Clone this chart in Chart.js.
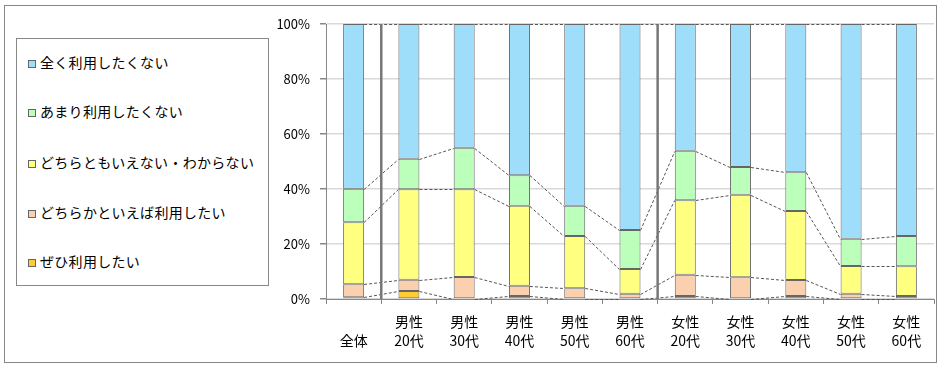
<!DOCTYPE html>
<html>
<head>
<meta charset="utf-8">
<script src="https://cdn.jsdelivr.net/npm/chart.js@4/dist/chart.umd.min.js"></script>
<style>
  body { margin: 0; background: #fff; font-family: "Noto Sans CJK JP", sans-serif; }
  #wrap { position: relative; width: 942px; height: 367px; }
  #frame { position: absolute; left: 4px; top: 5px; width: 933px; height: 358px; border: 1px solid #888; box-sizing: border-box; }
  #legend { position: absolute; left: 16px; top: 38px; width: 253px; height: 248px; border: 1px solid #888; box-sizing: border-box; background: #fff; }
  .item { position: absolute; left: 11px; height: 20px; line-height: 20px; font-size: 14px; color: #000; white-space: nowrap; letter-spacing: 0.3px; }
  .item i { display: inline-block; width: 8px; height: 8px; border: 1px solid #666; margin-right: 4px; vertical-align: 0px; box-sizing: border-box; }
  canvas { position: absolute; left: 0; top: 0; }
</style>
</head>
<body>
<div id="wrap">
  <div id="frame"></div>
  <canvas id="chart" width="942" height="367"></canvas>
  <div id="legend"></div>
</div>
<script>
// categories (two-line labels)
const categories = [
  ["", "全体"],
  ["男性", "20代"], ["男性", "30代"], ["男性", "40代"], ["男性", "50代"], ["男性", "60代"],
  ["女性", "20代"], ["女性", "30代"], ["女性", "40代"], ["女性", "50代"], ["女性", "60代"]
];

// series values, % (bottom of stack first)
const zehi      = [0.6, 2.9, 0.0, 1.1, 0.0, 0.0, 1.1, 0.0, 1.1, 0.0, 0.0];
const dochiraka = [4.8, 4.1, 8.0, 3.7, 3.9, 1.9, 7.7, 7.9, 5.8, 1.9, 1.1];
const wakaranai = [22.5, 32.9, 31.9, 29.1, 19.0, 9.0, 27.1, 30.0, 25.1, 10.1, 10.8];
const amari     = [12.2, 11.1, 15.1, 11.1, 11.0, 14.2, 18.0, 10.1, 14.1, 9.9, 11.0];
const mattaku   = [59.9, 49.0, 45.0, 55.0, 66.1, 74.9, 46.1, 52.0, 53.9, 78.1, 77.1];

const seriesNames = ["ぜひ利用したい", "どちらかといえば利用したい", "どちらともいえない・わからない", "あまり利用したくない", "全く利用したくない"];
const yTicks = [0, 20, 40, 60, 80, 100];

const colors = ["#FFCC33", "#FAD0AE", "#FFFF80", "#BBFFBB", "#9FDEFB"];
const seriesData = [zehi, dochiraka, wakaranai, amari, mattaku];

// group separators after these category indexes
const separatorsAfter = [0, 5];

const seriesLines = {
    id: "seriesLines",
    afterDatasetsDraw(chart) {
        const ctx = chart.ctx;
        const area = chart.chartArea;
        ctx.save();
        ctx.strokeStyle = "#555";
        ctx.lineWidth = 1;
        ctx.setLineDash([3, 2]);
        chart.data.datasets.forEach((ds, di) => {
            const bars = chart.getDatasetMeta(di).data;
            for (let i = 0; i < bars.length - 1; i++) {
                const a = bars[i], b = bars[i + 1];
                ctx.beginPath();
                ctx.moveTo(a.x + a.width / 2, Math.round(a.y) + 0.5);
                ctx.lineTo(b.x - b.width / 2, Math.round(b.y) + 0.5);
                ctx.stroke();
            }
        });
        ctx.setLineDash([]);
        ctx.strokeStyle = "#777";
        ctx.lineWidth = 2.5;
        const xs = chart.scales.x;
        separatorsAfter.forEach(i => {
            const x = (xs.getPixelForValue(i) + xs.getPixelForValue(i + 1)) / 2;
            ctx.beginPath();
            ctx.moveTo(x, area.top);
            ctx.lineTo(x, area.bottom);
            ctx.stroke();
        });
        ctx.restore();
    }
};

new Chart(document.getElementById("chart"), {
    type: "bar",
    data: {
        labels: categories,
        datasets: seriesData.map((d, i) => ({
            label: seriesNames[i],
            data: d,
            backgroundColor: colors[i],
            borderColor: "#666",
            borderWidth: 1,
            borderSkipped: false,
            barPercentage: 0.38,
            categoryPercentage: 1.0
        }))
    },
    options: {
        responsive: false,
        animation: false,
        layout: { padding: { left: 266, right: 8, top: 24, bottom: 6 } },
        plugins: { legend: { display: false }, tooltip: { enabled: false } },
        scales: {
            x: {
                stacked: true,
                afterFit(scale) { scale.height = 62; },
                grid: { drawOnChartArea: false, tickLength: 5, color: "#888", tickColor: "#888" },
                border: { color: "#888", width: 1 },
                ticks: {
                    color: "#000",
                    padding: 9,
                    maxRotation: 0,
                    autoSkip: false,
                    font: { family: "Noto Sans CJK JP", size: 14, lineHeight: 1.3 }
                }
            },
            y: {
                stacked: true,
                min: 0,
                max: 100,
                afterFit(scale) { scale.width = 60; },
                afterBuildTicks(scale) { scale.ticks = yTicks.map(v => ({ value: v })); },
                grid: { color: "#d9d9d9", lineWidth: 1.5, tickLength: 6, tickColor: "#888" },
                border: { color: "#888", width: 1 },
                ticks: {
                    color: "#000",
                    padding: 10,
                    font: { family: "Noto Sans CJK JP", size: 13 },
                    callback: v => v + "%"
                }
            }
        }
    },
    plugins: [seriesLines]
});

// legend, top series first
const legend = document.getElementById("legend");
const legendTops = [13, 62, 113, 163, 212];
for (let k = 0; k < seriesNames.length; k++) {
    const si = seriesNames.length - 1 - k;
    const div = document.createElement("div");
    div.className = "item";
    div.style.top = legendTops[k] + "px";
    div.innerHTML = '<i style="background:' + colors[si] + '"></i>' + seriesNames[si];
    legend.appendChild(div);
}
</script>
</body>
</html>
